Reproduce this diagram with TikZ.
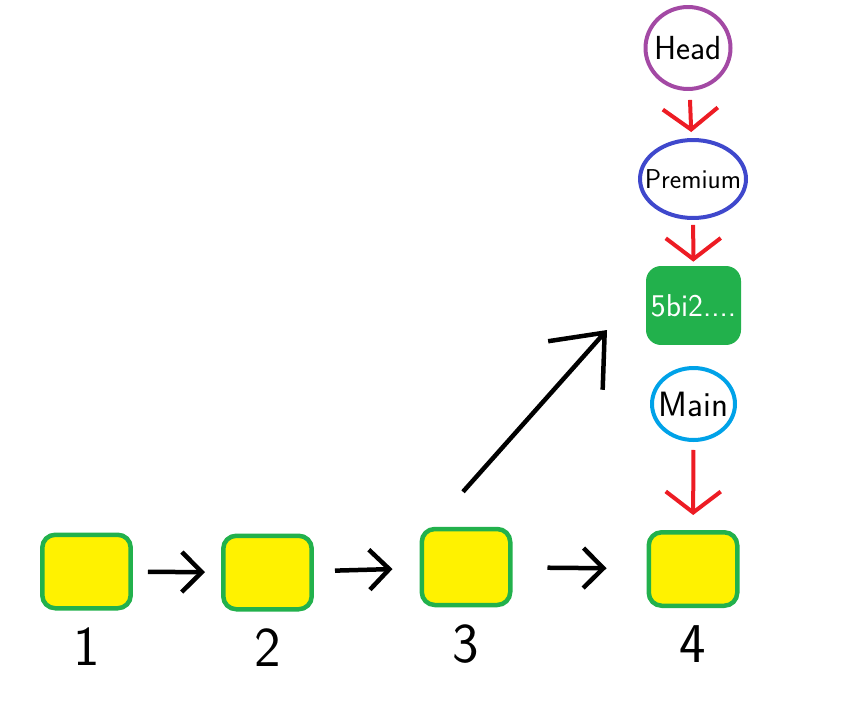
\documentclass[tikz,border=0pt]{standalone}
\usetikzlibrary{shapes.geometric,arrows.meta}
\definecolor{boxgreen}{HTML}{22B14C}
\definecolor{boxyellow}{HTML}{FFF200}
\definecolor{headpurple}{HTML}{A349A4}
\definecolor{premblue}{HTML}{3F48CC}
\definecolor{mainblue}{HTML}{00A2E8}
\definecolor{refred}{HTML}{ED1C24}
\begin{document}
\begin{tikzpicture}[x=0.02cm, y=-0.02cm]
            % pixel grid of the sketch, y running down
            \useasboundingbox (0,0) rectangle (854,706);
            % styles
            \tikzstyle{commit}=[rounded corners=0.26cm, draw=boxgreen, fill=boxyellow, line width=0.09cm, minimum width=1.77cm, minimum height=1.47cm]
            \tikzstyle{num}=[font=\sffamily\fontsize{32}{36}\selectfont, label distance=0.22cm]
            \tikzstyle{ref}=[ellipse, draw, line width=0.08cm, inner sep=-0.3cm, font=\sffamily\fontsize{19}{23}\selectfont]
            \tikzstyle{next}=[line width=0.09cm, -{Straight Barb[length=0.4cm, width=0.8cm, line width=0.09cm]}]
            \tikzstyle{point}=[refred, line width=0.08cm, -{Straight Barb[length=0.42cm, width=1.1cm, line width=0.08cm]}]
            
            % commits
            \node[commit, label={[num]below:1}] (c1) at (86.5,571.5) {};
            \node[commit, label={[num]below:2}] (c2) at (267.5,572.5) {};
            \node[commit, label={[num]below:3}, minimum height=1.52cm] (c3) at (466,567) {};
            \node[commit, label={[num]below:4}] (c4) at (693,569) {};
            
            % refs
            \node[ref, draw=headpurple, minimum width=1.7cm, minimum height=1.64cm] (head) at (688,48) {Head};
            \node[ref, draw=premblue, minimum width=2.12cm, minimum height=1.56cm, font=\sffamily\fontsize{15.5}{18}\selectfont] (premium) at (693,179) {Premium};
            \node[rounded corners=0.3cm, fill=boxgreen, text=white, inner sep=0pt, minimum width=1.9cm, minimum height=1.58cm, font=\sffamily\fontsize{18}{22}\selectfont] (hash) at (693.5,305.5) {5bi2....};
            \node[ref, draw=mainblue, minimum width=1.66cm, minimum height=1.44cm, font=\sffamily\fontsize{20}{24}\selectfont] (main) at (693.5,404) {Main};
            
            % history
            \draw[next, shorten <=0.3cm, shorten >=0.32cm] (c1) -- (c2);
            \draw[next, shorten <=0.42cm, shorten >=0.54cm] (c2) -- (c3);
            \draw[next, shorten <=0.7cm, shorten >=0.8cm] (c3) -- (c4);
            
            % the branch that leaves 3
            \coordinate (tip) at (607,330);
            \draw[line width=0.09cm, -{Straight Barb[length=0.88cm, width=1.46cm, line width=0.09cm]}] ([xshift=-0.06cm, yshift=0.7cm]c3.north) -- (tip);
            
            % pointers
            \draw[point, shorten <=0.18cm, shorten >=0.12cm] (head) -- (premium);
            \draw[point, shorten <=0.1cm, shorten >=0.08cm] (premium) -- (hash);
            \draw[point, shorten <=0.16cm, shorten >=0.3cm] (main) -- (c4);
        \end{tikzpicture}
\end{document}
